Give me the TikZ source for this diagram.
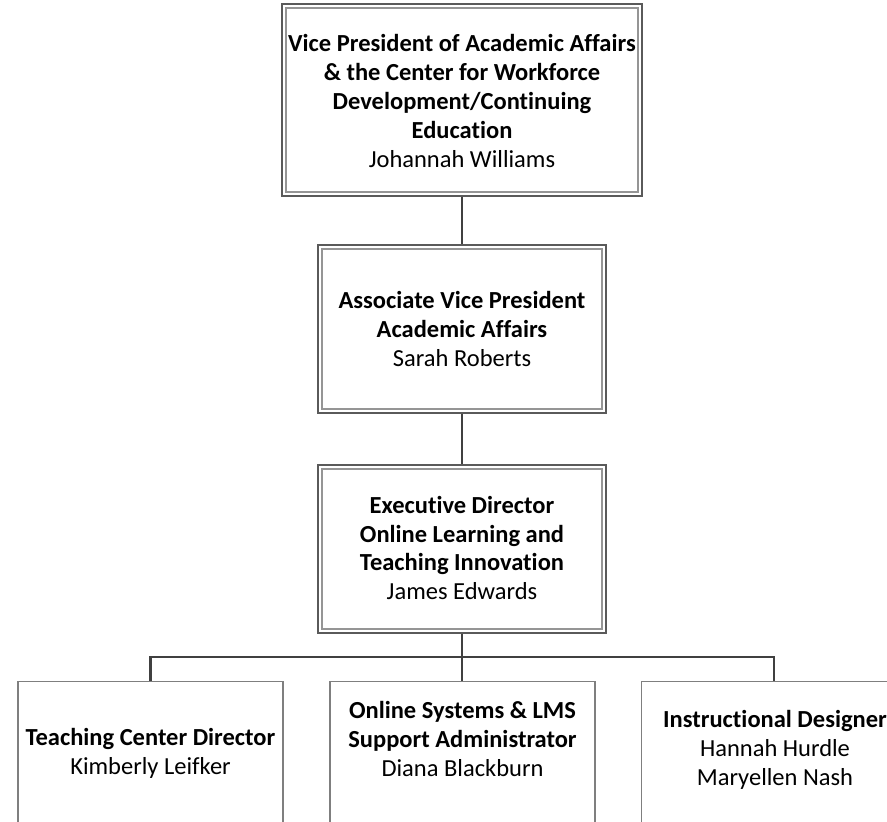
\documentclass[tikz,border=0pt]{standalone}
\usepackage{fontspec}
\setmainfont[Ligatures={NoCommon}]{Carlito}
\begin{document}
\begin{tikzpicture}[x=1pt,y=-1pt,
  outerbox/.style={draw=outerc,line width=1.3pt,inner sep=0pt},
  innerline/.style={draw=innerc,line width=1.5pt},
  leafbox/.style={draw=leafc,line width=1.3pt,inner sep=0pt,minimum width=265pt,minimum height=160pt,anchor=north},
  conn/.style={draw=connc,line width=2.8pt},
  txt/.style={align=center,font=\fontsize{24.5}{28.8}\selectfont,inner sep=0pt}]
\definecolor{outerc}{HTML}{5A5A5A}
\definecolor{innerc}{HTML}{959595}
\definecolor{leafc}{HTML}{7F7F7F}
\definecolor{connc}{HTML}{404040}
\useasboundingbox (0,0) rectangle (887,822);
\fill[white] (0,0) rectangle (887,822);
% top box
\node[outerbox,minimum width=360pt,minimum height=192pt] (a) at (462,100) {};
\draw[innerline] ([shift={(4.5,4.5)}]a.north west) rectangle ([shift={(-4.5,-4.5)}]a.south east);
\node[txt] (at) at (462,101) {\textbf{Vice President of Academic Affairs}\\\textbf{\& the Center for Workforce}\\\textbf{Development/Continuing}\\\textbf{Education}\\Johannah Williams};
% second box
\node[outerbox,minimum width=288pt,minimum height=168pt] (b) at (462,329) {};
\draw[innerline] ([shift={(4.5,4.5)}]b.north west) rectangle ([shift={(-4.5,-4.5)}]b.south east);
\node[txt] (bt) at (462,329) {\textbf{Associate Vice President}\\\textbf{Academic Affairs}\\Sarah Roberts};
% third box
\node[outerbox,minimum width=288pt,minimum height=168pt] (c) at (462,549) {};
\draw[innerline] ([shift={(4.5,4.5)}]c.north west) rectangle ([shift={(-4.5,-4.5)}]c.south east);
\node[txt] (ct) at (462,548) {\textbf{Executive Director}\\\textbf{Online Learning and}\\\textbf{Teaching Innovation}\\James Edwards};
% leaf boxes
\node[leafbox] (d1) at (150.5,681) {};
\node[leafbox] (d2) at (462.5,681) {};
\node[leafbox] (d3) at (774,681) {};
\node[txt] (d1t) at (150.5,753) {\textbf{Teaching Center Director}\\Kimberly Leifker};
\node[txt] (d2t) at (462.5,739) {\textbf{Online Systems \& LMS}\\\textbf{Support Administrator}\\Diana Blackburn};
\node[txt] (d3t) at (775,750) {\textbf{Instructional Designer}\\Hannah Hurdle\\Maryellen Nash};
% connectors
\coordinate (bus) at (462,657);
\draw[conn] (a.south) -- (b.north);
\draw[conn] (b.south) -- (c.north);
\draw[conn] (c.south) -- (bus);
\draw[conn] (bus) -- (d2.north -| bus);
\draw[conn] (d1.north) |- (bus) -| (d3.north);
\end{tikzpicture}
\end{document}
